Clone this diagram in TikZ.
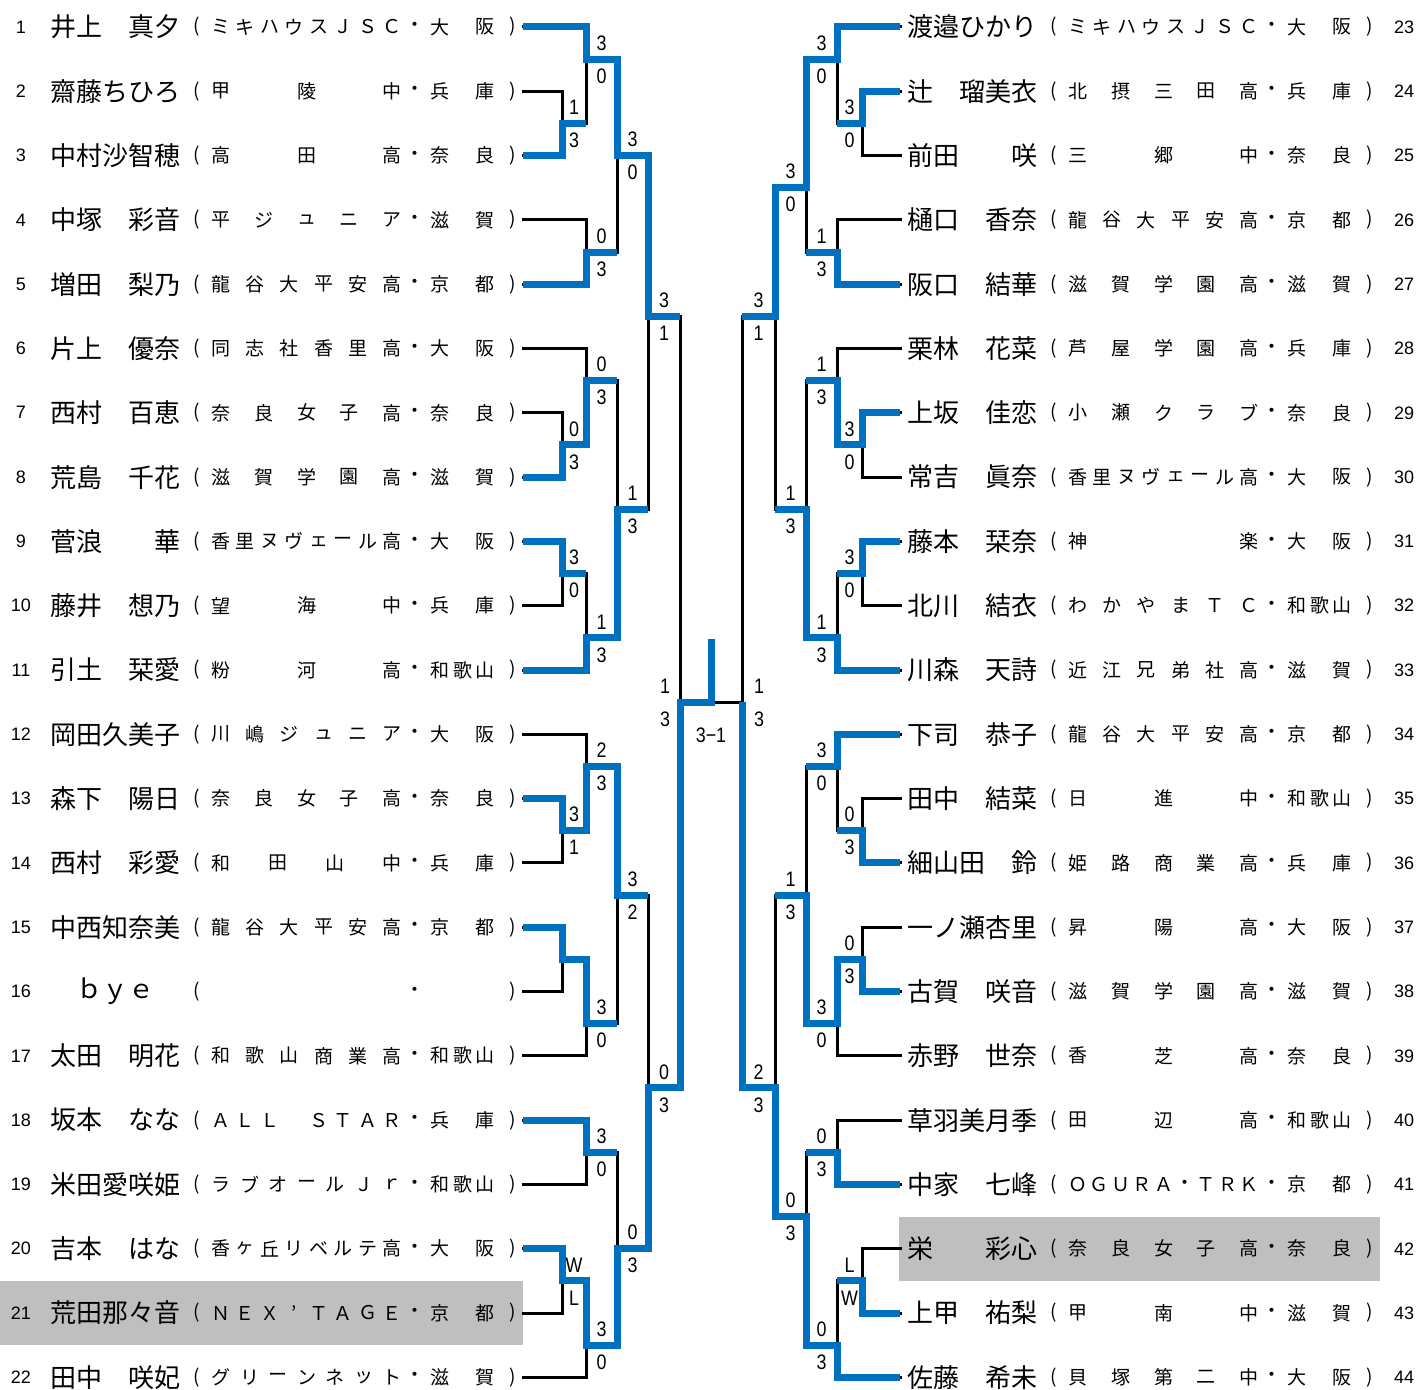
\documentclass[tikz,border=0pt]{standalone}
\usepackage{fontspec}
\setmainfont{Liberation Sans}
\newfontfamily\jpfont{Noto Sans CJK JP}
\definecolor{winblue}{RGB}{0,112,192}
\definecolor{hlgrey}{RGB}{191,191,191}
\pgfdeclarelayer{bg}
\pgfdeclarelayer{blk}
\pgfsetlayers{bg,blk,main}
\newcounter{mcount}
% spread characters evenly between two x positions
\newcommand\spreadchars[5]{%
  \gdef\spn{0}%
  \foreach \ch in {#4}{\pgfmathtruncatemacro\tmpn{\spn+1}\xdef\spn{\tmpn}}%
  \foreach \ch [count=\k from 0] in {#4}{%
    \pgfmathsetmacro\xx{#2+\k*((#3)-(#2))/(\spn-1)}%
    \node[aff] (#5-\k) at (\xx,#1) {\ch};}%
}
% #1 shift, #2 number x, #3 row index, #4 number, #5 name, #6 school, #7 prefecture
\newcommand\plentry[7]{%
  \pgfmathsetmacro\ry{27+#3*64.3}%
  \node[num] (no#4) at (#2,\ry) {#4};%
  \node[nm] (na#4) at (#1+50,\ry) {#5};%
  \node[aff] (po#4) at (#1+197,\ry) {(};%
  \node[aff] (dt#4) at (#1+415,\ry) {・};%
  \node[aff] (pc#4) at (#1+513,\ry) {)};%
  \spreadchars{\ry}{#1+221}{#1+392}{#6}{sc#4}%
  \spreadchars{\ry}{#1+440}{#1+485}{#7}{pf#4}%
}
% #1 column, #2 top, #3 bottom, #4 meet, #5 winner y, #6 winner entry x, #7 out x, #8 top score, #9 bottom score
\newcommand\bmatch[9]{%
  \stepcounter{mcount}%
  \begin{pgfonlayer}{blk}\draw[lose] (#1,#2) -- (#1,#3);\end{pgfonlayer}%
  \draw[win] (#6,#5) -- (#1,#5) -- (#1,#4) -- (#7,#4);%
  \pgfmathsetmacro\lx{(#1+#7)/2}%
  \node[score] (m\arabic{mcount}t) at (\lx,{#4-16}) {\scalebox{0.85}[1]{#8}};%
  \node[score] (m\arabic{mcount}b) at (\lx,{#4+17}) {\scalebox{0.85}[1]{#9}};%
}
\begin{document}
\begin{tikzpicture}[x=1pt,y=-1pt,
  lose/.style={line width=3pt,black,line cap=rect},
  win/.style={line width=7pt,winblue,line join=miter},
  nm/.style={font=\jpfont\fontsize{26}{26}\selectfont,anchor=west,inner sep=0pt},
  aff/.style={font=\jpfont\fontsize{19}{19}\selectfont,inner sep=0pt},
  num/.style={font=\fontsize{18}{18}\selectfont,inner sep=0pt},
  score/.style={font=\fontsize{21}{21}\selectfont,inner sep=0pt}]
\begin{pgfonlayer}{bg}
  \fill[white] (0,0) rectangle (1420,1389);
  \fill[hlgrey] (0,1280.85) rectangle (523,1345.15);
  \fill[hlgrey] (899,1216.55) rectangle (1380,1280.85);
\end{pgfonlayer}
\useasboundingbox (0,0) rectangle (1420,1389);

% player lines
\begin{pgfonlayer}{blk}
\foreach \a [count=\i from 0] in {1,0,0,1,1,1,0,0,0,0,1,1,0,0,0,0,1,1,1,0,0,1} {
  \pgfmathsetmacro\ry{27+\i*64.3}
  \pgfmathsetmacro\lc{\a==1 ? 586 : 562}
  \pgfmathsetmacro\rc{\a==1 ? 837 : 862}
  \coordinate (pl\i) at (523,\ry);
  \coordinate (pr\i) at (900,\ry);
  \draw[lose] (pl\i) -- (\lc,\ry);
  \draw[lose] (pr\i) -- (\rc,\ry);
}
\end{pgfonlayer}

% left entries
\plentry{0}{21}{0}{1}{井上　真夕}{ミ,キ,ハ,ウ,ス,Ｊ,Ｓ,Ｃ}{大,阪}
\plentry{0}{21}{1}{2}{齋藤ちひろ}{甲,陵,中}{兵,庫}
\plentry{0}{21}{2}{3}{中村沙智穂}{高,田,高}{奈,良}
\plentry{0}{21}{3}{4}{中塚　彩音}{平,ジ,ュ,ニ,ア}{滋,賀}
\plentry{0}{21}{4}{5}{増田　梨乃}{龍,谷,大,平,安,高}{京,都}
\plentry{0}{21}{5}{6}{片上　優奈}{同,志,社,香,里,高}{大,阪}
\plentry{0}{21}{6}{7}{西村　百恵}{奈,良,女,子,高}{奈,良}
\plentry{0}{21}{7}{8}{荒島　千花}{滋,賀,学,園,高}{滋,賀}
\plentry{0}{21}{8}{9}{菅浪　　華}{香,里,ヌ,ヴ,ェ,ー,ル,高}{大,阪}
\plentry{0}{21}{9}{10}{藤井　想乃}{望,海,中}{兵,庫}
\plentry{0}{21}{10}{11}{引土　栞愛}{粉,河,高}{和,歌,山}
\plentry{0}{21}{11}{12}{岡田久美子}{川,嶋,ジ,ュ,ニ,ア}{大,阪}
\plentry{0}{21}{12}{13}{森下　陽日}{奈,良,女,子,高}{奈,良}
\plentry{0}{21}{13}{14}{西村　彩愛}{和,田,山,中}{兵,庫}
\plentry{0}{21}{14}{15}{中西知奈美}{龍,谷,大,平,安,高}{京,都}
\pgfmathsetmacro\ry{27+15*64.3}
\node[num] (no16) at (21,\ry) {16};
\node[nm] (na16) at (50,\ry) {　ｂｙｅ　};
\node[aff] (po16) at (197,\ry) {(};
\node[aff] (dt16) at (415,\ry) {・};
\node[aff] (pc16) at (513,\ry) {)};
\plentry{0}{21}{16}{17}{太田　明花}{和,歌,山,商,業,高}{和,歌,山}
\plentry{0}{21}{17}{18}{坂本　なな}{Ａ,Ｌ,Ｌ,　,Ｓ,Ｔ,Ａ,Ｒ}{兵,庫}
\plentry{0}{21}{18}{19}{米田愛咲姫}{ラ,ブ,オ,ー,ル,Ｊ,ｒ}{和,歌,山}
\plentry{0}{21}{19}{20}{吉本　はな}{香,ヶ,丘,リ,ベ,ル,テ,高}{大,阪}
\plentry{0}{21}{20}{21}{荒田那々音}{Ｎ,Ｅ,Ｘ,’,Ｔ,Ａ,Ｇ,Ｅ}{京,都}
\plentry{0}{21}{21}{22}{田中　咲妃}{グ,リ,ー,ン,ネ,ッ,ト}{滋,賀}

% right entries
\plentry{857}{1404}{0}{23}{渡邉ひかり}{ミ,キ,ハ,ウ,ス,Ｊ,Ｓ,Ｃ}{大,阪}
\plentry{857}{1404}{1}{24}{辻　瑠美衣}{北,摂,三,田,高}{兵,庫}
\plentry{857}{1404}{2}{25}{前田　　咲}{三,郷,中}{奈,良}
\plentry{857}{1404}{3}{26}{樋口　香奈}{龍,谷,大,平,安,高}{京,都}
\plentry{857}{1404}{4}{27}{阪口　結華}{滋,賀,学,園,高}{滋,賀}
\plentry{857}{1404}{5}{28}{栗林　花菜}{芦,屋,学,園,高}{兵,庫}
\plentry{857}{1404}{6}{29}{上坂　佳恋}{小,瀬,ク,ラ,ブ}{奈,良}
\plentry{857}{1404}{7}{30}{常吉　眞奈}{香,里,ヌ,ヴ,ェ,ー,ル,高}{大,阪}
\plentry{857}{1404}{8}{31}{藤本　栞奈}{神,楽}{大,阪}
\plentry{857}{1404}{9}{32}{北川　結衣}{わ,か,や,ま,Ｔ,Ｃ}{和,歌,山}
\plentry{857}{1404}{10}{33}{川森　天詩}{近,江,兄,弟,社,高}{滋,賀}
\plentry{857}{1404}{11}{34}{下司　恭子}{龍,谷,大,平,安,高}{京,都}
\plentry{857}{1404}{12}{35}{田中　結菜}{日,進,中}{和,歌,山}
\plentry{857}{1404}{13}{36}{細山田　鈴}{姫,路,商,業,高}{兵,庫}
\plentry{857}{1404}{14}{37}{一ノ瀬杏里}{昇,陽,高}{大,阪}
\plentry{857}{1404}{15}{38}{古賀　咲音}{滋,賀,学,園,高}{滋,賀}
\plentry{857}{1404}{16}{39}{赤野　世奈}{香,芝,高}{奈,良}
\plentry{857}{1404}{17}{40}{草羽美月季}{田,辺,高}{和,歌,山}
\plentry{857}{1404}{18}{41}{中家　七峰}{Ｏ,Ｇ,Ｕ,Ｒ,Ａ,・,Ｔ,Ｒ,Ｋ}{京,都}
\plentry{857}{1404}{19}{42}{栄　　彩心}{奈,良,女,子,高}{奈,良}
\plentry{857}{1404}{20}{43}{上甲　祐梨}{甲,南,中}{滋,賀}
\plentry{857}{1404}{21}{44}{佐藤　希未}{貝,塚,第,二,中}{大,阪}

% left bracket
\bmatch{562}{91.3}{155.6}{123.45}{155.6}{523}{586}{1}{3}
\bmatch{586}{27}{123.45}{59.15}{27}{523}{617}{3}{0}
\bmatch{586}{219.9}{284.2}{252.05}{284.2}{523}{617}{0}{3}
\bmatch{617}{59.15}{252.05}{155.6}{59.15}{586}{648}{3}{0}
\bmatch{562}{412.8}{477.1}{444.95}{477.1}{523}{586}{0}{3}
\bmatch{586}{348.5}{444.95}{380.65}{444.95}{562}{617}{0}{3}
\bmatch{562}{541.4}{605.7}{573.55}{541.4}{523}{586}{3}{0}
\bmatch{586}{573.55}{670}{637.85}{670}{523}{617}{1}{3}
\bmatch{617}{380.65}{637.85}{509.25}{637.85}{586}{648}{1}{3}
\bmatch{648}{155.6}{509.25}{316.35}{155.6}{617}{680}{3}{1}
\bmatch{562}{798.6}{862.9}{830.75}{798.6}{523}{586}{3}{1}
\bmatch{586}{734.3}{830.75}{766.45}{830.75}{562}{617}{2}{3}
\bmatch{562}{927.2}{991.5}{959.35}{927.2}{523}{586}{}{}
\bmatch{586}{959.35}{1055.8}{1023.65}{959.35}{562}{617}{3}{0}
\bmatch{617}{766.45}{1023.65}{895.05}{766.45}{586}{648}{3}{2}
\bmatch{586}{1120.1}{1184.4}{1152.25}{1120.1}{523}{617}{3}{0}
\bmatch{562}{1248.7}{1313}{1280.85}{1248.7}{523}{586}{W}{L}
\bmatch{586}{1280.85}{1377.3}{1345.15}{1280.85}{562}{617}{3}{0}
\bmatch{617}{1152.25}{1345.15}{1248.7}{1345.15}{586}{648}{0}{3}
\bmatch{648}{895.05}{1248.7}{1087.95}{1248.7}{617}{680}{0}{3}

% right bracket
\bmatch{862}{91.3}{155.6}{123.45}{91.3}{900}{837}{3}{0}
\bmatch{837}{27}{123.45}{59.15}{27}{900}{806}{3}{0}
\bmatch{837}{219.9}{284.2}{252.05}{284.2}{900}{806}{1}{3}
\bmatch{806}{59.15}{252.05}{187.75}{59.15}{837}{775}{3}{0}
\bmatch{862}{412.8}{477.1}{444.95}{412.8}{900}{837}{3}{0}
\bmatch{837}{348.5}{444.95}{380.65}{444.95}{862}{806}{1}{3}
\bmatch{862}{541.4}{605.7}{573.55}{541.4}{900}{837}{3}{0}
\bmatch{837}{573.55}{670}{637.85}{670}{900}{806}{1}{3}
\bmatch{806}{380.65}{637.85}{509.25}{637.85}{837}{775}{1}{3}
\bmatch{775}{187.75}{509.25}{316.35}{187.75}{806}{742}{3}{1}
\bmatch{862}{798.6}{862.9}{830.75}{862.9}{900}{837}{0}{3}
\bmatch{837}{734.3}{830.75}{766.45}{734.3}{900}{806}{3}{0}
\bmatch{862}{927.2}{991.5}{959.35}{991.5}{900}{837}{0}{3}
\bmatch{837}{959.35}{1055.8}{1023.65}{959.35}{862}{806}{3}{0}
\bmatch{806}{766.45}{1023.65}{895.05}{1023.65}{837}{775}{1}{3}
\bmatch{837}{1120.1}{1184.4}{1152.25}{1184.4}{900}{806}{0}{3}
\bmatch{862}{1248.7}{1313}{1280.85}{1313}{900}{837}{L}{W}
\bmatch{837}{1280.85}{1377.3}{1345.15}{1377.3}{900}{806}{0}{3}
\bmatch{806}{1152.25}{1345.15}{1216.55}{1345.15}{837}{775}{0}{3}
\bmatch{775}{895.05}{1216.55}{1087.95}{1216.55}{806}{742}{2}{3}

% semifinals and final
\coordinate (semL) at (680,702.15);
\coordinate (semR) at (742,702.15);
\coordinate (fin) at (711,702.15);
\coordinate (champ) at (711,639);
\begin{pgfonlayer}{blk}
  \draw[lose] (680,316.35) -- (680,1087.95);
  \draw[lose] (742,316.35) -- (742,1087.95);
  \draw[lose] (semR) -- (fin);
\end{pgfonlayer}
\draw[win] (648,1087.95) -- (680,1087.95) -- (semL) -- (fin) -- (champ);
\draw[win] (775,1087.95) -- (742,1087.95) -- (semR);
\node[score] (sLt) at (665,686) {\scalebox{0.85}[1]{1}};
\node[score] (sLb) at (665,719) {\scalebox{0.85}[1]{3}};
\node[score] (sRt) at (759,686) {\scalebox{0.85}[1]{1}};
\node[score] (sRb) at (759,719) {\scalebox{0.85}[1]{3}};
\node[score] (final) at (711,735) {\scalebox{0.85}[1]{3−1}};
\end{tikzpicture}
\end{document}
